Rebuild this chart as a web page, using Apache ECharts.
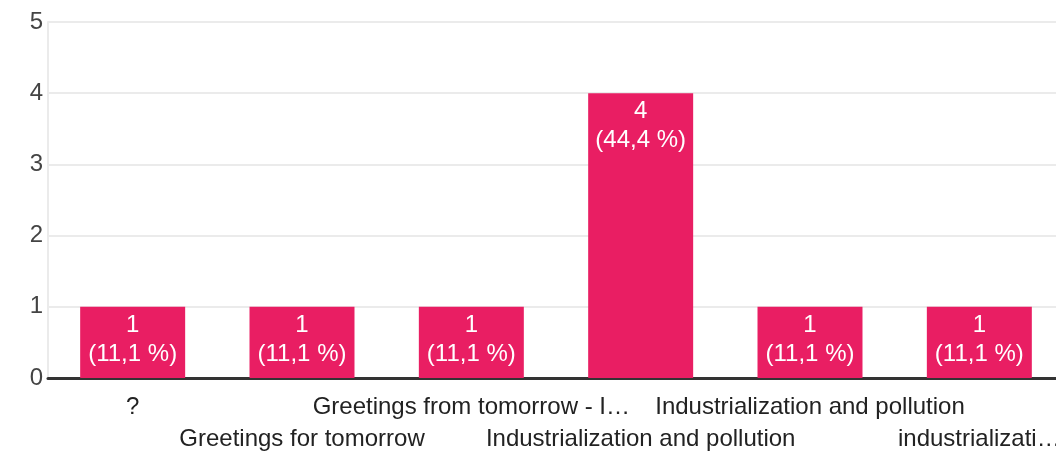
<!DOCTYPE html>
<html><head><meta charset="utf-8">
<script src="https://cdn.jsdelivr.net/npm/echarts@6/dist/echarts.min.js"></script>
<style>html,body{margin:0;padding:0;background:#fff}#c{width:1056px;height:452px}</style>
</head><body><div id="c"></div>
<script>
const categories = ['?', 'Greetings for tomorrow', 'Greetings from tomorrow - I…', 'Industrialization and pollution', 'Industrialization and pollution', 'industrializati…'];
const counts = [1, 1, 1, 4, 1, 1];
const percents = ['11,1 %', '11,1 %', '11,1 %', '44,4 %', '11,1 %', '11,1 %'];
const yTicks = [0, 1, 2, 3, 4, 5];

const chart = echarts.init(document.getElementById('c'), null, {renderer: 'canvas'});
const FONT = 'Liberation Sans, Arial, sans-serif';
chart.setOption({
  animation: false,
  grid: {left: 48, right: -8, top: 22, bottom: 74, containLabel: false, outerBoundsMode: 'none'},
  xAxis: {
    type: 'category', data: categories,
    axisLine: {show: true, lineStyle: {color: '#333', width: 3}},
    axisTick: {show: false},
    axisLabel: {
      interval: 0, margin: 13, color: '#222', fontFamily: FONT, fontSize: 24, lineHeight: 32,
      formatter: (v, i) => (i % 2 === 1 ? '\n' + v : v)
    }
  },
  yAxis: {
    type: 'value', min: yTicks[0], max: yTicks[yTicks.length - 1], interval: 1,
    axisLine: {show: true, lineStyle: {color: '#ebebeb', width: 2}},
    axisTick: {show: false},
    splitLine: {lineStyle: {color: '#ebebeb', width: 2}},
    axisLabel: {margin: 5, color: '#444', fontFamily: FONT, fontSize: 24}
  },
  series: [{
    type: 'bar',
    data: counts,
    barCategoryGap: '38%',
    itemStyle: {color: '#E91E63'},
    label: {
      show: true, position: 'insideTop', distance: 4,
      color: '#fff', fontFamily: FONT, fontSize: 24, lineHeight: 29,
      formatter: p => p.value + '\n(' + percents[p.dataIndex] + ')'
    }
  }]
});
</script></body></html>
